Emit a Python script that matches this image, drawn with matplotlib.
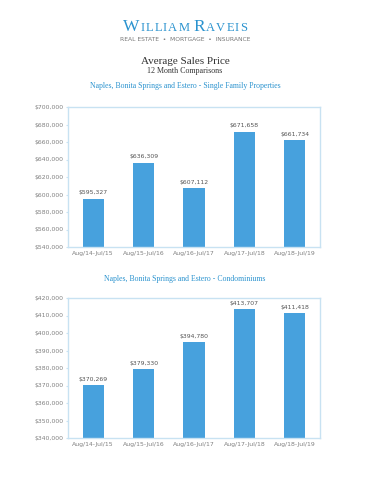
import matplotlib.pyplot as plt

# data
periods = ["Aug/14-Jul/15", "Aug/15-Jul/16", "Aug/16-Jul/17", "Aug/17-Jul/18", "Aug/18-Jul/19"]
single_family = [595327, 636309, 607112, 671658, 661734]
condos = [370269, 379330, 394780, 413707, 411418]

sf_ticks = list(range(540000, 700001, 20000))
condo_ticks = list(range(340000, 420001, 10000))

bar_color = "#47a1dd"
frame_color = "#c8e2f2"
text_gray = "#555555"
blue = "#2b93cf"

fig = plt.figure(figsize=(3.7, 4.8), dpi=100)
fig.patch.set_facecolor("white")

# logo: big first letters, small caps for the rest, letter by letter with tracking
logo = [("W", 12.5)] + [(c, 9.0) for c in "ILLIAM"] + [(" ", 9.0), ("R", 12.5)] + [(c, 9.0) for c in "AVEIS"]
renderer = fig.canvas.get_renderer()
texts, widths = [], []
for c, size in logo:
    t = fig.text(0, 1 - 31/480, c, ha="left", va="baseline",
                 family="Liberation Serif", fontsize=size, color=blue)
    texts.append(t)
    widths.append(3.0 if c == " " else t.get_window_extent(renderer).width + 1.1)
x0 = 185 - (sum(widths) - 1.1) / 2
for t, w in zip(texts, widths):
    t.set_x(x0 / 370)
    x0 += w

fig.text(0.5, 1 - 39.5/480, "REAL ESTATE  •  MORTGAGE  •  INSURANCE", ha="center", va="center",
         family="DejaVu Sans", fontsize=4.3, color="#777777")
fig.text(0.5, 1 - 61/480, "Average Sales Price", ha="center", va="center",
         family="Liberation Serif", fontsize=8, color="#333333")
fig.text(0.5, 1 - 71/480, "12 Month Comparisons", ha="center", va="center",
         family="Liberation Serif", fontsize=5.8, color="#333333")
fig.text(0.5, 1 - 86/480, "Naples, Bonita Springs and Estero - Single Family Properties",
         ha="center", va="center", family="Liberation Serif", fontsize=5.6, color=blue)
fig.text(0.5, 1 - 279/480, "Naples, Bonita Springs and Estero - Condominiums",
         ha="center", va="center", family="Liberation Serif", fontsize=5.6, color=blue)


def draw(ax, values, ticks):
    x = range(len(periods))
    ax.bar(x, [v - ticks[0] for v in values], bottom=ticks[0], width=0.42, color=bar_color)
    for i, v in enumerate(values):
        ax.annotate(f"${v:,}", (i, v), xytext=(0, 2.5), textcoords="offset points",
                    ha="center", va="bottom", fontsize=4.4, color=text_gray)
    ax.set_xlim(-0.5, len(periods) - 0.5)
    ax.set_ylim(ticks[0], ticks[-1])
    ax.set_yticks(ticks)
    ax.set_yticklabels([f"${t:,}" for t in ticks])
    ax.set_xticks(list(x))
    ax.set_xticklabels(periods)
    ax.tick_params(axis="x", length=0, labelsize=4.4, labelcolor="#808080", pad=3)
    ax.tick_params(axis="y", length=1.5, width=0.8, color=frame_color,
                   labelsize=4.4, labelcolor="#808080", pad=2)
    for s in ax.spines.values():
        s.set_color(frame_color)
        s.set_linewidth(1.0)


ax1 = fig.add_axes([68/370, 233/480, 252/370, 140/480])
draw(ax1, single_family, sf_ticks)

ax2 = fig.add_axes([68/370, 42/480, 252/370, 140/480])
draw(ax2, condos, condo_ticks)

fig.savefig("out.png", dpi=100)
